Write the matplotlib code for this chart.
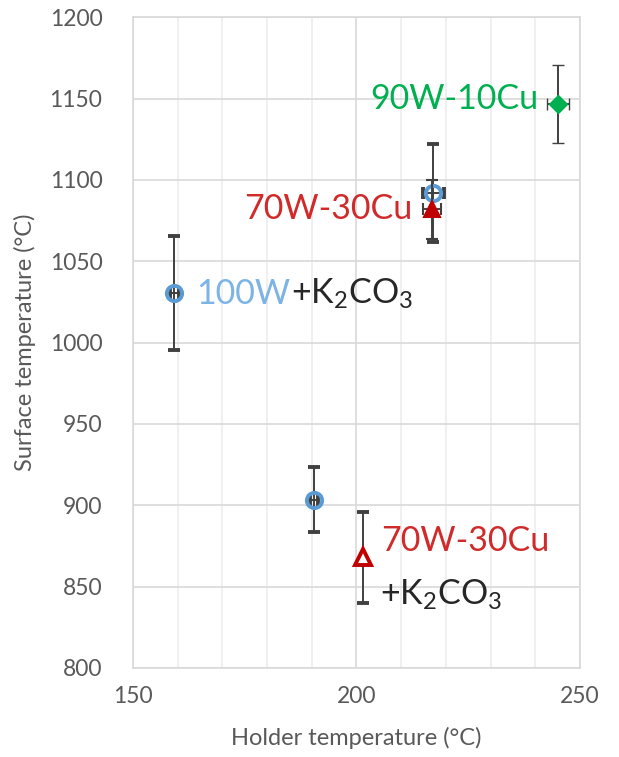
import matplotlib
matplotlib.use('Agg')
import matplotlib.pyplot as plt
from matplotlib.ticker import MultipleLocator
from matplotlib.transforms import ScaledTranslation

plt.rcParams['font.family'] = ['Lato', 'DejaVu Sans']
plt.rcParams['mathtext.fontset'] = 'custom'
plt.rcParams['mathtext.rm'] = 'Lato'

# holder temperature, surface temperature and their error bars per sample
w100_x = [159.2, 190.5, 217.2]
w100_y = [1030.5, 903.5, 1092.0]
w100_xerr = [1.0, 1.0, 2.3]
w100_yerr = [35, 20, 30]

w70_x = [216.8]
w70_y = [1082.0]
w70_xerr = [2.0]
w70_yerr = [18]

w70k_x = [201.5]
w70k_y = [868.0]
w70k_xerr = [0.0]
w70k_yerr = [28]

w90_x = [245.1]
w90_y = [1147.0]
w90_xerr = [2.5]
w90_yerr = [24]

BLUE = '#5b9bd5'
LIGHT_BLUE = '#7cb4e6'
RED = '#c00000'
RED_TXT = '#d02a2a'
GREEN = '#00b050'
DARK = '#262626'
ERR = '#404040'

fig = plt.figure(figsize=(6.19, 7.57), dpi=100)
ax = fig.add_axes([0.2149, 0.1176, 0.722, 0.8595])

err_kw = dict(ecolor=ERR, elinewidth=1.4, capsize=4, capthick=1.4, linestyle='none')

ax.errorbar(w100_x, w100_y, xerr=w100_xerr, yerr=w100_yerr, marker='o', ms=11,
            mfc='none', mec=BLUE, mew=2.8, zorder=3, **err_kw)
ax.errorbar(w70_x, w70_y, xerr=w70_xerr, yerr=w70_yerr, marker='^', ms=12,
            mfc=RED, mec=RED, mew=1.5, zorder=4, **err_kw)
ax.errorbar(w70k_x, w70k_y, xerr=w70k_xerr, yerr=w70k_yerr, marker='^', ms=11,
            mfc='white', mec=RED, mew=2.8, zorder=4, **err_kw)
ax.errorbar(w90_x, w90_y, xerr=w90_xerr, yerr=w90_yerr, marker='D', ms=9,
            mfc=GREEN, mec=GREEN, mew=1, zorder=4, **err_kw)

ax.set_xlim(150, 250)
ax.set_ylim(800, 1200)
ax.xaxis.set_major_locator(MultipleLocator(50))
ax.xaxis.set_minor_locator(MultipleLocator(10))
ax.yaxis.set_major_locator(MultipleLocator(50))
ax.grid(which='major', color='#d9d9d9', linewidth=1.2, zorder=0)
ax.grid(which='minor', axis='x', color='#eeeeee', linewidth=1.2, zorder=0)
ax.set_axisbelow(True)
for s in ax.spines.values():
    s.set_color('#d9d9d9')
    s.set_linewidth(1.2)
ax.tick_params(which='both', length=0, colors='#595959', labelsize=16.5)
ax.tick_params(axis='x', pad=13)
ax.tick_params(axis='y', pad=22)

ax.set_xlabel('Holder temperature (°C)', fontsize=17, color='#595959', labelpad=14)
ax.set_ylabel('Surface temperature (°C)', fontsize=17, color='#595959', labelpad=10)

lab = dict(fontsize=24.5)
ax.text(240.6, 1150, '90W-10Cu', color=GREEN, ha='right', va='center', **lab)
ax.text(212.6, 1082, '70W-30Cu', color=RED_TXT, ha='right', va='center', **lab)
ax.text(205.6, 878, '70W-30Cu', color=RED_TXT, ha='left', va='center', **lab)

k2co3 = r'+K$_\mathregular{2}$CO$_\mathregular{3}$'
ax.text(205.3, 839, k2co3, color=DARK, ha='left', va='baseline', **lab)

t1 = ax.text(164.2, 1024, '100W', color=LIGHT_BLUE, ha='left', va='baseline', **lab)
renderer = fig.canvas.get_renderer()
w = t1.get_window_extent(renderer).width / fig.dpi
ax.text(164.2, 1024, k2co3, color=DARK, ha='left', va='baseline',
        transform=ax.transData + ScaledTranslation(w, 0, fig.dpi_scale_trans), **lab)

fig.savefig('out.png', dpi=100)
